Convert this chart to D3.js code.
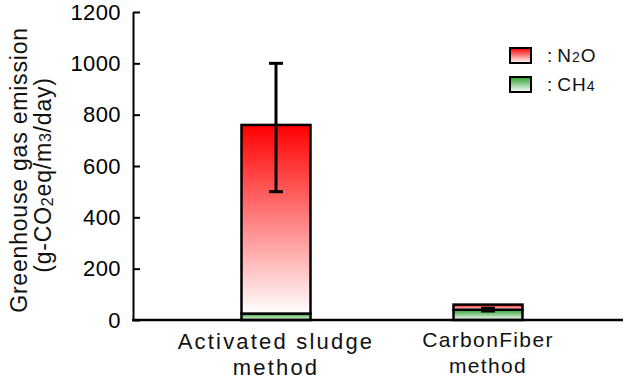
<!DOCTYPE html>
<html><head><meta charset="utf-8">
<script src="https://cdn.jsdelivr.net/npm/d3@7"></script>
<style>
html,body{margin:0;padding:0;background:#fff;}
svg{display:block;font-family:"Liberation Sans",Arial,sans-serif;}
</style></head>
<body><svg id="c" width="625" height="383"></svg>
<script>
const categories = ["Activated sludge method", "CarbonFiber method"];
const labelLines = [["Activated sludge", "method"], ["CarbonFiber", "method"]];
const ch4 = [25, 40];
const n2o = [735, 20];
const errLow = [500, 35];
const errHigh = [1000, 46];
const yTicks = [0, 200, 400, 600, 800, 1000, 1200];

const svg = d3.select("#c");
const defs = svg.append("defs");
function grad(id, c1, c2){
  const g = defs.append("linearGradient").attr("id", id)
    .attr("x1",0).attr("y1",0).attr("x2",0).attr("y2",1);
  g.append("stop").attr("offset","0%").attr("stop-color",c1);
  g.append("stop").attr("offset","100%").attr("stop-color",c2);
}
grad("gRed", "#ff0000", "#ffffff");
grad("gGreen", "#2ca02c", "#ffffff");

const y = d3.scaleLinear().domain([0,1200]).range([320,12]);
const x = d3.scalePoint().domain(categories).range([170,594]).padding(0.5);
const bw = 69;

// bars
categories.forEach((c,i)=>{
  const cx = x(c);
  const base = 0, mid = ch4[i], top = ch4[i] + n2o[i];
  svg.append("rect").attr("x", cx-bw/2).attr("width", bw)
    .attr("y", y(mid)).attr("height", y(base)-y(mid))
    .attr("fill","url(#gGreen)").attr("stroke","#000").attr("stroke-width",2.5);
  svg.append("rect").attr("x", cx-bw/2).attr("width", bw)
    .attr("y", y(top)).attr("height", y(mid)-y(top))
    .attr("fill","url(#gRed)").attr("stroke","#000").attr("stroke-width",2.5);
  // error bar
  const eg = svg.append("g").attr("stroke","#000").attr("stroke-width",3);
  eg.append("line").attr("x1",cx).attr("x2",cx).attr("y1",y(errLow[i])).attr("y2",y(errHigh[i]));
  eg.append("line").attr("x1",cx-7).attr("x2",cx+7).attr("y1",y(errLow[i])).attr("y2",y(errLow[i]));
  eg.append("line").attr("x1",cx-7).attr("x2",cx+7).attr("y1",y(errHigh[i])).attr("y2",y(errHigh[i]));
});

// y axis
const ax = svg.append("g").attr("transform","translate(133,0)")
  .call(d3.axisLeft(y).tickValues(yTicks).tickFormat(d3.format("d"))
        .tickSizeInner(-7).tickSizeOuter(0).tickPadding(12));
ax.selectAll("path,line").attr("stroke","#000").attr("stroke-width",2);
ax.selectAll("text").attr("font-size",22).attr("fill","#000")
  .attr("font-family","Liberation Sans, Arial, sans-serif")
  .style("letter-spacing","0.4px");

// x axis baseline
svg.append("line").attr("x1",132).attr("x2",623).attr("y1",y(0)).attr("y2",y(0))
  .attr("stroke","#000").attr("stroke-width",2.5);

// x labels
const labSizes = [22, 21], labLS = [2.2, 1.35], labBase = [[349,375],[347,373]];
categories.forEach((c,i)=>{
  labelLines[i].forEach((t,j)=>{
    svg.append("text").attr("x", x(c)).attr("y", labBase[i][j])
      .attr("text-anchor","middle").attr("font-size", labSizes[i])
      .style("letter-spacing", labLS[i]+"px").attr("fill","#111").text(t);
  });
});

// y title
const yt = svg.append("g").attr("transform","translate(0,170) rotate(-90)");
yt.append("text").attr("x",0).attr("y",27).attr("text-anchor","middle")
  .attr("font-size",23).style("letter-spacing","0.8px").attr("fill","#111")
  .text("Greenhouse gas emission");
const t2 = yt.append("text").attr("x",-5).attr("y",51).attr("text-anchor","middle")
  .attr("font-size",23).style("letter-spacing","0.8px").attr("fill","#111");
t2.append("tspan").text("(g-CO");
t2.append("tspan").attr("font-size",16).attr("dy",2).text("2");
t2.append("tspan").attr("dy",-2).text("eq/m");
t2.append("tspan").attr("font-size",16).text("3");
t2.append("tspan").text("/day)");

// legend
const legend = [
  {fill:"url(#gRed)", main:"N", sub:"2", tail:"O", y:48},
  {fill:"url(#gGreen)", main:"CH", sub:"4", tail:"", y:77}
];
legend.forEach(l=>{
  svg.append("rect").attr("x",510).attr("y",l.y).attr("width",21).attr("height",15)
    .attr("fill",l.fill).attr("stroke","#000").attr("stroke-width",2);
  const t = svg.append("text").attr("x",547).attr("y",l.y+14).attr("font-size",19)
    .style("letter-spacing","1px").attr("fill","#111");
  t.append("tspan").text(":");
  t.append("tspan").attr("dx",4).text(l.main);
  t.append("tspan").attr("font-size",14).text(l.sub);
  if (l.tail) t.append("tspan").text(l.tail);
});
</script></body></html>
